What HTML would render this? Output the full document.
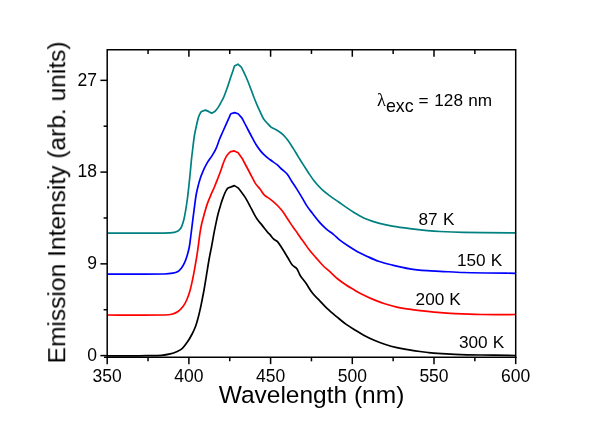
<!DOCTYPE html>
<html><head><meta charset="utf-8"><title>Emission spectra</title>
<style>
html,body{margin:0;padding:0;background:#fff;}
body{width:599px;height:429px;overflow:hidden;position:relative;font-family:"Liberation Sans",sans-serif;}
</style></head><body>
<svg width="599" height="429" viewBox="0 0 599 429" style="position:absolute;left:0;top:0;will-change:transform">
<rect x="0" y="0" width="599" height="429" fill="#fff"/>
<g fill="none" stroke-width="1.70" stroke-linejoin="round" stroke-linecap="butt">
<path d="M107.20,233.20 C114.33,233.18 135.73,233.17 150.00,233.10 C156.67,233.07 163.34,233.09 170.00,232.90 C171.47,232.86 172.98,232.74 174.40,232.40 C175.61,232.11 176.85,231.65 177.90,231.00 C178.88,230.39 179.82,229.54 180.50,228.60 C181.25,227.57 181.76,226.31 182.20,225.10 C182.92,223.11 183.52,221.06 184.00,219.00 C184.68,216.09 185.21,213.15 185.70,210.20 C186.38,206.15 186.97,202.08 187.50,198.00 C188.03,193.91 188.46,189.80 188.90,185.70 C189.32,181.80 189.72,177.90 190.10,174.00 C190.52,169.74 190.86,165.46 191.30,161.20 C191.72,157.13 192.20,153.06 192.70,149.00 C193.27,144.33 193.74,139.64 194.50,135.00 C195.08,131.47 195.92,127.99 196.70,124.50 C197.22,122.16 197.71,119.79 198.40,117.50 C198.78,116.23 199.29,114.98 199.90,113.80 C200.33,112.98 201.24,111.67 201.50,111.50 L205.40,110.10 L208.50,111.40 L211.70,113.30 L214.80,111.50 C215.23,111.11 217.07,109.00 218.00,107.60 C219.31,105.63 220.36,103.48 221.50,101.40 C222.29,99.95 223.16,98.52 223.80,97.00 C225.09,93.92 226.19,90.75 227.30,87.60 C228.52,84.12 229.63,80.60 230.80,77.10 C231.53,74.93 232.28,72.77 233.00,70.60 C233.51,69.07 234.18,66.42 234.50,66.00 L237.90,64.20 L241.30,67.20 C241.59,67.56 242.61,69.58 243.20,70.80 C244.34,73.18 245.46,75.57 246.50,78.00 C247.73,80.87 248.88,83.78 250.00,86.70 C251.21,89.86 252.28,93.08 253.50,96.24 C254.62,99.14 255.78,102.03 257.00,104.89 C257.95,107.10 258.98,109.28 260.00,111.46 C261.14,113.89 262.07,116.46 263.50,118.71 C264.71,120.61 266.38,122.22 267.90,123.90 C269.01,125.12 270.07,126.46 271.40,127.40 C272.97,128.50 274.96,128.98 276.60,130.00 C278.72,131.32 280.87,132.71 282.70,134.40 C284.67,136.21 286.39,138.35 288.00,140.50 C289.89,143.02 291.51,145.74 293.20,148.40 C295.01,151.27 296.72,154.21 298.50,157.10 C300.22,159.88 301.95,162.64 303.70,165.40 C305.15,167.68 306.59,169.96 308.10,172.20 C310.09,175.16 311.98,178.22 314.20,181.00 C316.64,184.05 319.27,187.01 322.10,189.70 C324.50,191.98 327.23,193.92 329.90,195.90 C332.77,198.02 335.77,199.96 338.70,202.00 C341.61,204.03 344.47,206.11 347.40,208.10 C349.71,209.67 352.03,211.23 354.40,212.70 C356.23,213.83 358.11,214.89 360.00,215.90 C362.04,216.99 364.08,218.10 366.20,219.02 C368.08,219.84 370.05,220.47 372.00,221.12 C374.15,221.84 376.30,222.59 378.50,223.13 C383.10,224.27 387.73,225.34 392.40,226.17 C398.20,227.20 404.05,227.96 409.90,228.70 C415.72,229.44 421.56,230.06 427.40,230.60 C431.59,230.99 435.79,231.30 440.00,231.50 C447.89,231.87 455.80,232.15 463.70,232.30 C481.03,232.62 507.03,232.80 515.70,232.90" stroke="#008080"/>
<path d="M107.20,274.10 C116.67,274.08 145.08,274.26 164.00,274.00 C166.91,273.96 169.86,273.73 172.70,273.20 C174.52,272.86 176.43,272.33 178.00,271.40 C179.37,270.59 180.53,269.28 181.50,268.00 C182.73,266.38 183.76,264.55 184.60,262.70 C185.62,260.45 186.39,258.07 187.10,255.70 C187.96,252.84 188.75,249.94 189.30,247.00 C189.98,243.37 190.33,239.67 190.80,236.00 C191.46,230.90 192.06,225.80 192.70,220.70 C193.29,216.03 193.88,211.36 194.50,206.70 C195.04,202.63 195.48,198.54 196.20,194.50 C196.78,191.27 197.60,188.08 198.40,184.90 C199.00,182.55 199.65,180.21 200.40,177.90 C200.88,176.41 201.50,174.95 202.10,173.50 C202.83,171.72 203.56,169.93 204.40,168.20 C205.40,166.13 206.41,164.06 207.60,162.10 C209.07,159.69 210.90,157.49 212.40,155.10 C213.66,153.09 214.93,151.06 215.90,148.90 C217.30,145.79 218.22,142.47 219.50,139.30 C220.56,136.67 221.76,134.10 222.90,131.50 C224.06,128.86 225.23,126.23 226.40,123.60 C227.26,121.66 228.13,119.73 229.00,117.80 C229.60,116.47 230.46,114.12 230.80,113.80 L234.60,112.60 L238.10,113.70 L241.60,117.60 C241.96,118.11 243.36,120.72 244.20,122.30 C245.46,124.68 246.65,127.11 247.90,129.50 C249.32,132.21 250.74,134.91 252.20,137.59 C253.61,140.18 254.94,142.82 256.50,145.31 C257.71,147.23 259.06,149.08 260.50,150.84 C261.83,152.46 263.26,154.03 264.80,155.45 C266.49,157.02 268.36,158.40 270.20,159.80 C272.43,161.49 274.84,162.93 277.00,164.70 C278.88,166.23 280.51,168.05 282.30,169.70 C283.88,171.15 285.76,172.35 287.10,174.00 C288.82,176.12 290.01,178.68 291.50,181.00 C293.21,183.65 295.01,186.24 296.70,188.90 C298.51,191.77 300.25,194.69 302.00,197.60 C303.75,200.52 305.32,203.56 307.20,206.40 C308.79,208.80 310.63,211.03 312.40,213.30 C314.70,216.26 316.92,219.30 319.40,222.10 C321.58,224.57 323.93,226.93 326.40,229.10 C328.59,231.03 331.14,232.55 333.40,234.40 C335.74,236.31 337.82,238.55 340.20,240.40 C342.92,242.51 345.81,244.41 348.70,246.30 C351.58,248.18 354.49,250.04 357.50,251.70 C360.32,253.25 363.27,254.59 366.20,255.92 C370.27,257.77 374.29,259.76 378.50,261.23 C383.03,262.81 387.73,263.94 392.40,265.07 C398.20,266.47 404.02,267.85 409.90,268.80 C415.69,269.73 421.56,270.21 427.40,270.70 C431.59,271.05 435.80,271.09 440.00,271.30 C447.90,271.69 455.79,272.29 463.70,272.50 C481.03,272.96 507.03,273.17 515.70,273.30" stroke="#0000ff"/>
<path d="M107.20,315.00 C116.67,315.00 145.08,315.20 164.00,315.00 C166.64,314.97 169.37,314.93 171.90,314.30 C174.04,313.77 176.20,312.77 178.00,311.50 C179.97,310.11 181.74,308.24 183.20,306.30 C184.64,304.40 185.73,302.19 186.70,300.00 C187.97,297.12 189.04,294.13 189.90,291.10 C191.07,286.96 191.92,282.72 192.80,278.50 C193.65,274.42 194.36,270.31 195.10,266.20 C195.73,262.71 196.35,259.21 196.90,255.70 C197.45,252.21 197.92,248.70 198.40,245.20 C198.96,241.10 199.37,236.98 200.00,232.90 C200.50,229.68 201.07,226.47 201.80,223.30 C202.61,219.77 203.62,216.29 204.60,212.80 C205.42,209.89 206.20,206.96 207.20,204.10 C208.24,201.12 209.47,198.21 210.70,195.30 C211.81,192.67 213.09,190.13 214.20,187.50 C215.43,184.59 216.56,181.64 217.70,178.70 C218.86,175.71 220.01,172.71 221.10,169.70 C221.67,168.11 222.12,166.48 222.70,164.90 C223.42,162.92 224.11,160.91 225.00,159.00 C225.65,157.61 226.36,156.20 227.30,155.00 C228.29,153.73 230.33,151.88 230.80,151.60 L234.30,150.90 L238.10,152.70 L242.00,158.30 C242.33,158.83 243.75,161.42 244.60,163.00 C245.85,165.32 247.07,167.66 248.30,170.00 C249.17,171.66 250.01,173.34 250.90,175.00 C252.48,177.96 253.88,181.05 255.70,183.84 C256.91,185.70 258.64,187.20 260.00,188.96 C261.54,190.94 262.64,193.32 264.40,195.07 C266.14,196.80 268.55,197.85 270.50,199.40 C272.92,201.33 275.32,203.32 277.50,205.50 C279.38,207.38 281.10,209.47 282.70,211.60 C284.60,214.13 286.24,216.86 288.00,219.50 C289.74,222.10 291.42,224.73 293.20,227.30 C294.62,229.36 296.16,231.35 297.60,233.40 C298.76,235.05 299.83,236.76 301.00,238.40 C301.87,239.62 302.82,240.78 303.70,242.00 C305.76,244.85 307.64,247.83 309.80,250.60 C311.70,253.03 313.86,255.28 315.90,257.60 C318.22,260.24 320.43,263.01 322.90,265.50 C325.09,267.71 327.59,269.61 329.90,271.70 C332.56,274.11 335.04,276.73 337.80,279.00 C340.30,281.06 343.00,282.90 345.70,284.70 C348.04,286.26 350.48,287.67 352.90,289.10 C355.91,290.87 358.90,292.70 362.00,294.30 C365.40,296.05 368.87,297.66 372.40,299.13 C376.44,300.81 380.54,302.39 384.70,303.74 C388.70,305.03 392.79,306.13 396.90,307.05 C400.96,307.95 405.09,308.57 409.20,309.20 C412.79,309.75 416.39,310.19 420.00,310.60 C425.83,311.26 431.66,311.90 437.50,312.40 C443.32,312.90 449.16,313.32 455.00,313.60 C463.73,314.02 472.46,314.37 481.20,314.50 C492.70,314.67 509.95,314.50 515.70,314.50" stroke="#ff0000"/>
<path d="M107.20,355.90 C111.00,355.90 122.40,355.94 130.00,355.90 C135.83,355.87 141.67,355.81 147.50,355.70 C152.17,355.61 156.86,355.67 161.50,355.30 C164.42,355.07 167.36,354.61 170.20,353.90 C172.59,353.31 174.96,352.43 177.20,351.40 C179.03,350.56 180.95,349.65 182.40,348.30 C184.45,346.39 186.11,343.95 187.70,341.60 C189.34,339.18 190.77,336.60 192.10,334.00 C193.40,331.47 194.61,328.87 195.60,326.20 C196.65,323.37 197.42,320.42 198.20,317.50 C198.98,314.59 199.64,311.64 200.30,308.70 C200.84,306.31 201.32,303.90 201.80,301.50 C202.62,297.34 203.46,293.18 204.20,289.00 C205.13,283.74 205.93,278.47 206.80,273.20 C207.66,267.97 208.46,262.72 209.40,257.50 C210.03,253.99 210.84,250.51 211.50,247.00 C212.27,242.91 212.93,238.79 213.70,234.70 C214.36,231.19 215.07,227.69 215.80,224.20 C216.53,220.69 217.22,217.17 218.10,213.70 C218.95,210.37 219.99,207.09 221.00,203.80 C221.56,201.99 222.16,200.19 222.80,198.40 C223.33,196.92 223.89,195.45 224.50,194.00 C225.02,192.78 225.53,191.54 226.20,190.40 C226.70,189.54 227.73,188.19 228.00,188.00 L231.10,186.90 L234.40,185.60 L238.10,187.90 C238.56,188.33 240.41,190.74 241.50,192.20 C242.77,193.90 244.08,195.59 245.20,197.40 C246.78,199.96 248.18,202.64 249.60,205.30 C251.08,208.05 252.40,210.88 253.90,213.62 C255.00,215.64 256.10,217.68 257.40,219.57 C258.40,221.02 259.69,222.25 260.80,223.62 C262.03,225.15 263.18,226.73 264.40,228.27 C265.55,229.72 266.67,231.21 267.90,232.60 C268.54,233.32 269.36,233.88 270.00,234.60 C271.23,235.98 272.16,237.65 273.50,238.90 C274.66,239.99 276.45,240.41 277.50,241.60 C279.52,243.88 281.03,246.69 282.70,249.30 C284.53,252.16 286.23,255.10 288.00,258.00 C289.43,260.34 290.58,262.92 292.30,265.00 C293.48,266.42 295.60,267.04 296.70,268.50 C298.23,270.54 298.82,273.30 300.20,275.50 C301.75,277.97 303.83,280.10 305.50,282.50 C307.89,285.93 309.84,289.70 312.40,293.00 C314.47,295.67 317.06,297.94 319.40,300.40 C322.03,303.17 324.52,306.09 327.30,308.70 C330.55,311.76 334.06,314.54 337.50,317.40 C340.36,319.78 343.18,322.23 346.20,324.40 C349.02,326.43 352.04,328.17 355.00,330.00 C357.87,331.77 360.72,333.61 363.70,335.20 C367.12,337.03 370.63,338.72 374.20,340.26 C377.63,341.74 381.14,343.08 384.70,344.24 C388.71,345.54 392.79,346.71 396.90,347.65 C400.95,348.57 405.09,349.12 409.20,349.80 C412.79,350.40 416.39,350.98 420.00,351.50 C422.66,351.88 425.33,352.21 428.00,352.50 C431.16,352.84 434.33,353.19 437.50,353.40 C443.33,353.79 449.16,354.09 455.00,354.30 C463.73,354.62 472.47,354.83 481.20,355.00 C492.70,355.23 509.95,355.42 515.70,355.50" stroke="#000000"/>
</g>
<g stroke="#000" stroke-width="1.50" fill="none" stroke-linecap="butt">
<path d="M107.20,358.10 V49.75 H515.70 V358.10"/>
<path d="M104.00,357.35 H516.45"/>
<path d="M107.20,357.35 v6.80"/>
<path d="M148.05,357.35 v4.00"/>
<path d="M188.90,357.35 v6.80"/>
<path d="M229.75,357.35 v4.00"/>
<path d="M270.60,357.35 v6.80"/>
<path d="M311.45,357.35 v4.00"/>
<path d="M352.30,357.35 v6.80"/>
<path d="M393.15,357.35 v4.00"/>
<path d="M434.00,357.35 v6.80"/>
<path d="M474.85,357.35 v4.00"/>
<path d="M515.70,357.35 v6.80"/>
<path d="M148.05,49.75 v4.20"/>
<path d="M188.90,49.75 v7.00"/>
<path d="M229.75,49.75 v4.20"/>
<path d="M270.60,49.75 v7.00"/>
<path d="M311.45,49.75 v4.20"/>
<path d="M352.30,49.75 v7.00"/>
<path d="M393.15,49.75 v4.20"/>
<path d="M434.00,49.75 v7.00"/>
<path d="M474.85,49.75 v4.20"/>
<path d="M107.20,355.60 h-6.80"/>
<path d="M107.20,309.72 h-3.60"/>
<path d="M107.20,263.85 h-6.80"/>
<path d="M107.20,217.97 h-3.60"/>
<path d="M107.20,172.09 h-6.80"/>
<path d="M107.20,126.21 h-3.60"/>
<path d="M107.20,80.34 h-6.80"/>
</g>
<g opacity="0.999" font-family="'Liberation Sans', sans-serif" fill="#000">
<g font-size="17.50" text-anchor="middle">
<text x="107.20" y="381.6">350</text>
<text x="188.90" y="381.6">400</text>
<text x="270.60" y="381.6">450</text>
<text x="352.30" y="381.6">500</text>
<text x="434.00" y="381.6">550</text>
<text x="515.70" y="381.6">600</text>
</g>
<g font-size="17.50" text-anchor="end">
<text x="97.0" y="360.80">0</text>
<text x="97.0" y="269.05">9</text>
<text x="97.0" y="177.29">18</text>
<text x="97.0" y="85.54">27</text>
</g>
<g font-size="17.2">
<text x="418.5" y="224.9" word-spacing="0.5">87 K</text>
<text x="456.9" y="266.3" word-spacing="0.3">150 K</text>
<text x="415.6" y="304.6" word-spacing="0.3">200 K</text>
<text x="459.0" y="347.5" word-spacing="0.3">300 K</text>
<text x="418.4" y="105.9">=</text>
<text x="434.3" y="105.9">128</text>
<text x="468.2" y="105.9">nm</text>
<text x="385.9" y="112.4" font-size="17.8">exc</text>
<text x="377.0" y="105.9" font-family="'Liberation Serif', serif" font-size="18.3">λ</text>
</g>
<text x="311.5" y="403.4" font-size="24.5" text-anchor="middle">Wavelength (nm)</text>
<text transform="translate(65.2,202.4) rotate(-90)" font-size="24.55" text-anchor="middle">Emission Intensity (arb. units)</text>
</g>
</svg>
</body></html>
